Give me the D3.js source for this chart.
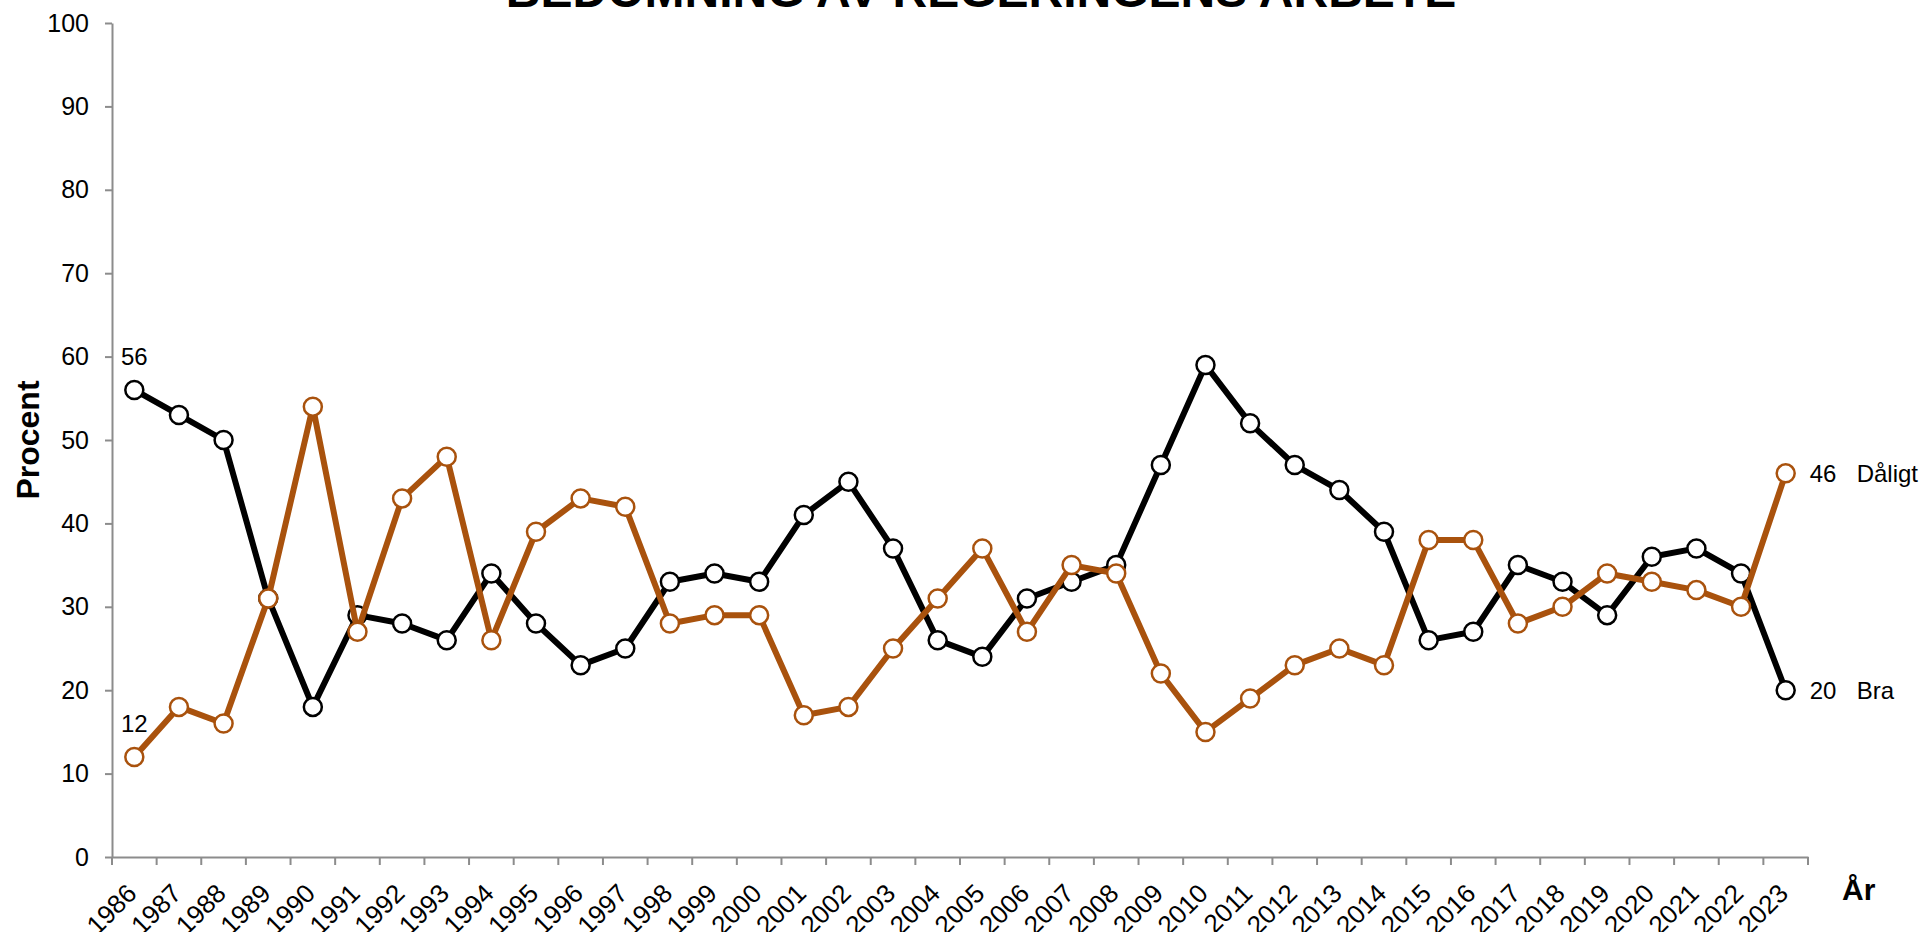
<!DOCTYPE html>
<html>
<head>
<meta charset="utf-8">
<script src="https://cdn.jsdelivr.net/npm/d3@7"></script>
<style>
  body { margin: 0; background: #fff; }
  svg { display: block; font-family: "Liberation Sans", Arial, sans-serif; }
</style>
</head>
<body>
<script>
// years on the x axis
const years = d3.range(1986, 2024).map(String);

// "Bra" (black) and "Dåligt" (orange), percent
const bra = [56, 53, 50, 31, 18, 29, 28, 26, 34, 28, 23, 25, 33, 34, 33, 41, 45, 37, 26, 24,
             31, 33, 35, 47, 59, 52, 47, 44, 39, 26, 27, 35, 33, 29, 36, 37, 34, 20];
const daligt = [12, 18, 16, 31, 54, 27, 43, 48, 26, 39, 43, 42, 28, 29, 29, 17, 18, 25, 31, 37,
                27, 35, 34, 22, 15, 19, 23, 25, 23, 38, 38, 28, 30, 34, 33, 32, 30, 46];

const yTicks = [0, 10, 20, 30, 40, 50, 60, 70, 80, 90, 100];

const title = "BEDÖMNING AV REGERINGENS ARBETE";

const width = 1922, height = 932;
const margin = {top: 23, right: 114, bottom: 75, left: 112};

const svg = d3.select("body").append("svg")
    .attr("width", width)
    .attr("height", height);

let x = d3.scaleBand()
    .domain(years)
    .range([margin.left, width - margin.right])
    .padding(0);

let y = d3.scaleLinear()
    .domain([0, 100])
    .range([height - margin.bottom, margin.top]);

const cx = d => x(d) + x.bandwidth() / 2;
const axisColor = "#8c8c8c";

// title (cut off at the top, as in the original)
svg.append("text")
    .attr("x", 981)
    .attr("y", 7)
    .attr("text-anchor", "middle")
    .style("font-size", "48px")
    .style("font-weight", "bold")
    .text(title);

// y axis
let yAxis = svg.append("g")
    .attr("transform", `translate(${margin.left},0)`)
    .call(d3.axisLeft(y).tickValues(yTicks).tickSize(7).tickSizeOuter(0).tickPadding(16));

yAxis.select(".domain").attr("stroke", axisColor).attr("stroke-width", 2);
yAxis.selectAll(".tick line").attr("stroke", axisColor).attr("stroke-width", 2);
yAxis.selectAll(".tick text")
    .style("font-size", "25px")
    .attr("fill", "#000");

// x axis: ticks sit between the years
let xAxis = svg.append("g")
    .attr("transform", `translate(0,${y(0)})`)
    .call(d3.axisBottom(x).tickSize(8).tickSizeOuter(0).tickFormat(""));

xAxis.select(".domain").attr("stroke", axisColor).attr("stroke-width", 2);
xAxis.selectAll(".tick line")
    .attr("stroke", axisColor).attr("stroke-width", 2)
    .attr("x1", -x.bandwidth() / 2).attr("x2", -x.bandwidth() / 2);

xAxis.append("line")
    .attr("x1", x.range()[1]).attr("x2", x.range()[1])
    .attr("y1", 0).attr("y2", 8)
    .attr("stroke", axisColor).attr("stroke-width", 2);

svg.append("g").selectAll("text")
    .data(years)
    .enter()
    .append("text")
        .attr("transform", d => `translate(${cx(d) + 4},${y(0) + 38}) rotate(-45)`)
        .attr("text-anchor", "end")
        .style("font-size", "26px")
        .text(d => d);

// axis titles
svg.append("text")
    .attr("transform", `translate(39,${y(50)}) rotate(-90)`)
    .attr("text-anchor", "middle")
    .style("font-size", "32px")
    .style("font-weight", "bold")
    .text("Procent");

svg.append("text")
    .attr("x", 1842)
    .attr("y", 900)
    .style("font-size", "30px")
    .style("font-weight", "bold")
    .text("År");

// series
const series = [
    {name: "Bra", values: bra, color: "#000000"},
    {name: "Dåligt", values: daligt, color: "#a9520d"}
];

const line = d3.line()
    .x((d, i) => cx(years[i]))
    .y(d => y(d));

series.forEach(s => {
    svg.append("path")
        .datum(s.values)
        .attr("fill", "none")
        .attr("stroke", s.color)
        .attr("stroke-width", 6)
        .attr("stroke-linejoin", "round")
        .attr("d", line);

    svg.append("g").selectAll("circle")
        .data(s.values)
        .enter()
        .append("circle")
            .attr("cx", (d, i) => cx(years[i]))
            .attr("cy", d => y(d))
            .attr("r", 9)
            .attr("fill", "#fff")
            .attr("stroke", s.color)
            .attr("stroke-width", 2.5);

    // first value above the first point
    svg.append("text")
        .attr("x", cx(years[0]))
        .attr("y", y(s.values[0]) - 25)
        .attr("text-anchor", "middle")
        .style("font-size", "24px")
        .text(s.values[0]);

    // last value and name to the right
    const last = s.values[s.values.length - 1];
    svg.append("text")
        .attr("x", cx(years[years.length - 1]) + 24)
        .attr("y", y(last))
        .attr("dy", "0.35em")
        .style("font-size", "24px")
        .text(last);

    svg.append("text")
        .attr("x", cx(years[years.length - 1]) + 71)
        .attr("y", y(last))
        .attr("dy", "0.35em")
        .style("font-size", "24px")
        .text(s.name);
});
</script>
</body>
</html>
